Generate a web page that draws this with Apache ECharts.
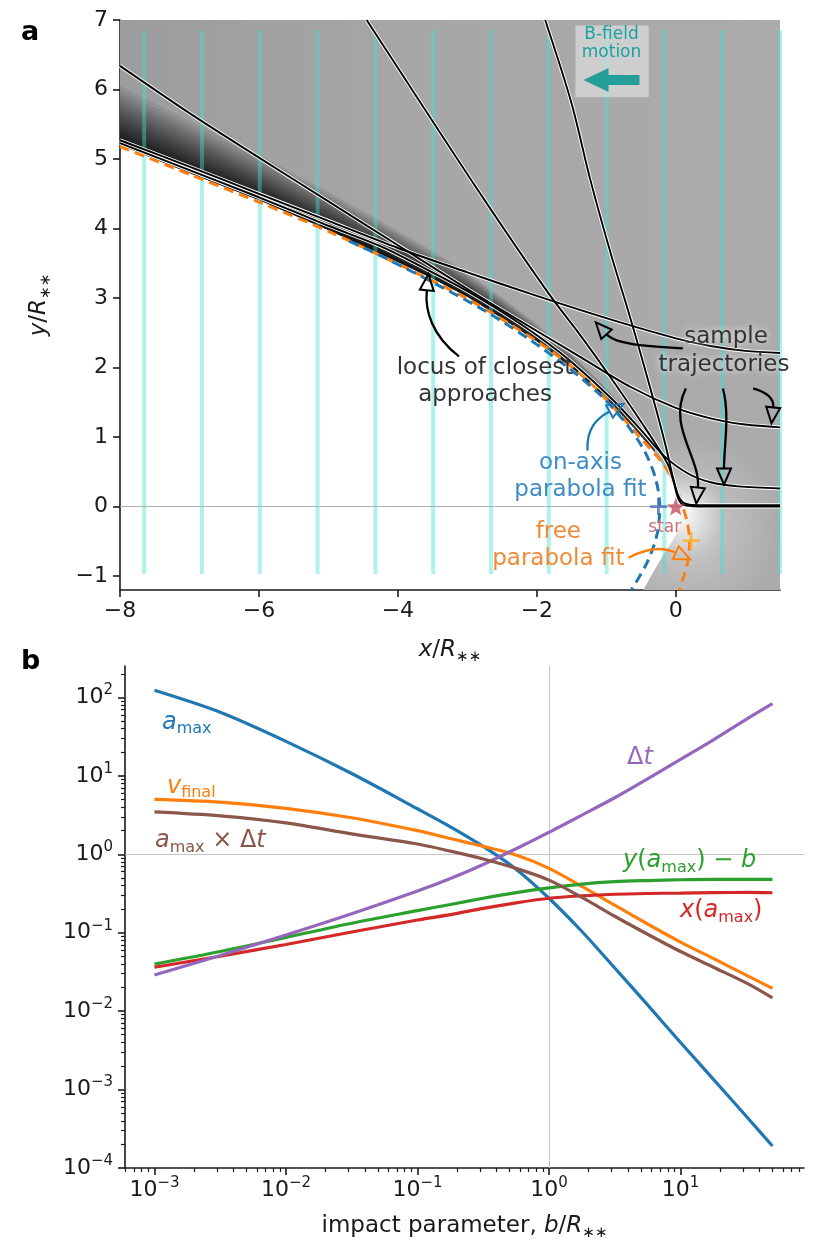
<!DOCTYPE html>
<html>
<head>
<meta charset="utf-8">
<script src="https://cdn.jsdelivr.net/npm/echarts@6.0.0/dist/echarts.min.js"></script>
<style>
html,body{margin:0;padding:0;background:#ffffff;}
#chart{width:830px;height:1246px;}
</style>
</head>
<body>
<div id="chart"></div>
<script>
// ===================== Panel a : values =====================
const A_X_RANGE = [-8, 1.5];
const A_Y_RANGE = [-1.2, 7];
const A_X_TICKS = [-8, -6, -4, -2, 0];
const A_Y_TICKS = [-1, 0, 1, 2, 3, 4, 5, 6, 7];

// vertical B-field lines
const BFIELD_X = [-7.652, -6.82, -5.988, -5.156, -4.324, -3.492, -2.66, -1.828, -0.996, -0.164, 0.668, 1.5];
const BFIELD_Y_SPAN = [-0.97, 6.85];

// lower-left edge of the grey density region (upper part, left to star)
const ENVELOPE = [[-8,5.2],[-7,4.8],[-6,4.41],[-5,3.98],[-4,3.52],[-3.5,3.28],[-3,3.02],[-2.5,2.71],[-2,2.38],[-1.5,2.0],[-1,1.56],[-0.6,1.13],[-0.3,0.78],[-0.1,0.45],[0.03,0.15],[0.09,0]];
// edge of the shadow below the star (star downwards)
const SHADOW_EDGE = [[0.09,0],[0.05,-0.3],[-0.05,-0.5],[-0.17,-0.68],[-0.3,-0.9],[-0.47,-1.2]];

// sample trajectories
const TRAJ_1 = [[-8,5.27],[-7,4.89],[-6,4.5],[-5,4.11],[-4,3.72],[-3,3.37],[-2,3.03],[-1,2.71],[0,2.42],[0.5,2.31],[1,2.24],[1.5,2.21]];
const TRAJ_2 = [[-8,6.34],[-7,5.66],[-6,5.02],[-5,4.39],[-4,3.76],[-3,3.13],[-2.34,2.73],[-1.37,2.15],[-0.65,1.72],[0,1.42],[0.5,1.27],[1,1.18],[1.5,1.14]];
const TRAJ_3 = [[-8,5.23],[-7,4.84],[-6,4.45],[-5,4.04],[-4.26,3.75],[-3.6,3.42],[-3,3.1],[-2.5,2.8],[-1.95,2.43],[-1.5,2.08],[-0.9,1.53],[-0.5,1.1],[-0.17,0.73],[0.17,0.48],[0.5,0.35],[0.9,0.29],[1.5,0.26]];
const TRAJ_4 = [[-4.45,7],[-3.7,5.85],[-2.96,4.72],[-2.3,3.74],[-1.76,2.97],[-1.37,2.46],[-0.94,1.86],[-0.5,1.22],[-0.12,0.62],[-0.03,0.35],[0.03,0.13],[0.1,0.03],[0.25,0.005],[0.6,0],[1.5,0]];
const TRAJ_5 = [[-1.88,7],[-1.5,5.8],[-1.23,4.7],[-0.93,3.62],[-0.68,2.8],[-0.45,2.0],[-0.27,1.35],[-0.14,0.85],[-0.04,0.42],[0.04,0.15],[0.12,0.05],[0.3,0.02],[1.5,0.02]];

// parabola fits
const FREE_FIT = [[-8,5.18],[-7,4.78],[-6,4.38],[-5,3.96],[-4,3.49],[-3,2.99],[-2.3,2.57],[-1.81,2.25],[-1.3,1.85],[-0.9,1.43],[-0.5,0.98],[-0.17,0.6],[0,0.28],[0.1,0],[0.17,-0.25],[0.2,-0.5],[0.17,-0.8],[0.1,-1.05],[0.05,-1.2]];
const ONAXIS_FIT = [[-4.7,3.82],[-4.15,3.56],[-3.45,3.2],[-2.72,2.8],[-2.1,2.4],[-1.55,2.0],[-1.08,1.6],[-0.72,1.2],[-0.45,0.8],[-0.29,0.4],[-0.23,0],[-0.27,-0.4],[-0.41,-0.8],[-0.64,-1.2]];

const STAR_POS = [[0, 0]];
const ONAXIS_FOCUS = [[-0.25, 0]];
const FREE_FOCUS = [[0.22, -0.49]];

// ===================== Panel b : values =====================
const B_VALUES  = [0.001, 0.00316, 0.01, 0.0316, 0.1, 0.178, 0.316, 0.562, 1, 1.78, 3.16, 5.62, 10, 17.8, 31.6, 50];
const A_MAX     = [123, 64.6, 27.5, 10.7, 3.80, 2.24, 1.26, 0.646, 0.275, 0.1035, 0.0355, 0.0120, 0.00398, 0.00135, 0.000457, 0.000191];
const V_FINAL   = [5.01, 4.62, 3.85, 2.92, 2.0, 1.585, 1.259, 0.977, 0.661, 0.389, 0.224, 0.129, 0.0759, 0.0468, 0.0288, 0.0195];
const Y_AMAX_B  = [0.0398, 0.0575, 0.0871, 0.132, 0.191, 0.229, 0.275, 0.324, 0.372, 0.417, 0.447, 0.462, 0.473, 0.479, 0.479, 0.479];
const X_AMAX    = [0.0363, 0.0501, 0.0708, 0.102, 0.145, 0.170, 0.204, 0.240, 0.275, 0.295, 0.309, 0.316, 0.320, 0.324, 0.326, 0.323];
const DELTA_T   = [0.0288, 0.0513, 0.0933, 0.174, 0.339, 0.490, 0.741, 1.175, 1.905, 3.16, 5.25, 9.12, 16.2, 28.8, 52.5, 83.2];
const AMAX_DT   = [3.47, 3.09, 2.51, 1.82, 1.35, 1.096, 0.871, 0.661, 0.468, 0.282, 0.162, 0.0955, 0.0575, 0.0363, 0.0229, 0.0148];

const B_X_RANGE_LOG = [-3.224, 1.939];
const B_Y_RANGE_LOG = [-4, 2.4];
const B_X_TICKS_LOG = [-3, -2, -1, 0, 1];
const B_Y_TICKS_LOG = [-4, -3, -2, -1, 0, 1, 2];

// ===================== helpers =====================
const FONT = 'DejaVu Sans';
const MINUS = '\u2212';
const INK = '#1a1a1a';
const fmtNum = v => (v < 0 ? MINUS + Math.abs(v) : String(v));
const C = {blue:'#1f77b4', orange:'#ff7f0e', green:'#2ca02c', red:'#d62728', purple:'#9467bd', brown:'#8c564b'};

function minorLogTicks(lo, hi) {
  const out = [];
  for (let n = Math.floor(lo) - 1; n <= Math.ceil(hi); n++) {
    for (let k = 2; k <= 9; k++) {
      const v = n + Math.log10(k);
      if (v > lo && v < hi) out.push(v);
    }
  }
  return out;
}
const X_MINOR = minorLogTicks(B_X_RANGE_LOG[0], B_X_RANGE_LOG[1]);
const Y_MINOR = minorLogTicks(B_Y_RANGE_LOG[0], B_Y_RANGE_LOG[1]);

function starPath() {
  let d = '';
  for (let i = 0; i < 10; i++) {
    const r = i % 2 ? 0.42 : 1;
    const a = -Math.PI / 2 + i * Math.PI / 5;
    d += (i ? 'L' : 'M') + (r * Math.cos(a)).toFixed(3) + ',' + (r * Math.sin(a)).toFixed(3);
  }
  return 'path://' + d + 'Z';
}
const PLUS_PATH = 'path://M-1,-0.17L-0.17,-0.17L-0.17,-1L0.17,-1L0.17,-0.17L1,-0.17L1,0.17L0.17,0.17L0.17,1L-0.17,1L-0.17,0.17L-1,0.17Z';

// grey region polygon built from the envelope + shadow edges and axis extents
const GRAY_POLY = [[A_X_RANGE[0], A_Y_RANGE[1]], [A_X_RANGE[1], A_Y_RANGE[1]], [A_X_RANGE[1], A_Y_RANGE[0]]]
  .concat(SHADOW_EDGE.slice().reverse())
  .concat(ENVELOPE.slice(0, -1).reverse());

// dark caustic band next to the envelope (stacked translucent layers)
const BAND_N = 30;
const BAND_FRACS = Array.from({length: BAND_N}, (_, i) => Math.pow((i + 1) / BAND_N, 2.2));
function bandPolygon(frac) {
  const pts = ENVELOPE.filter(p => p[0] <= -0.15);
  const upper = pts.map(([x, y]) => [x, y + (0.05 + 0.1 * (-x)) * frac]).reverse();
  return pts.concat(upper);
}
const GLOWS = [
  {x: 0.15, y: -0.3, r: 1.35, a: 0.55},
  {x: 0.08, y: -0.08, r: 0.6, a: 1.0}
];

function trajSeries(pts) {
  return [
    {type:'line', xAxisIndex:0, yAxisIndex:0, data: pts, showSymbol:false, smooth:0.3, silent:true, z:5,
     lineStyle:{color:'#ffffff', width:3.8}},
    {type:'line', xAxisIndex:0, yAxisIndex:0, data: pts, showSymbol:false, smooth:0.3, silent:true, z:6,
     lineStyle:{color:'#000000', width:1.9}}
  ];
}
function logSeries(vals, color) {
  return {type:'line', xAxisIndex:1, yAxisIndex:1, showSymbol:false, smooth:0.3, silent:true, z:5,
    data: B_VALUES.map((b, i) => [Math.log10(b), Math.log10(vals[i])]),
    lineStyle:{color, width:3.2}};
}

const mathRich = (size) => ({
  i: {fontFamily: FONT, fontStyle:'italic', fontSize: size, lineHeight: size + 6},
  n: {fontFamily: FONT, fontSize: size, lineHeight: size + 6},
  s: {fontFamily: FONT, fontSize: Math.round(size * 0.65), lineHeight: Math.round(size * 0.65), verticalAlign:'bottom'}
});
const supRich = {
  b: {fontFamily: FONT, fontSize: 22, lineHeight: 29, color: INK},
  s: {fontFamily: FONT, fontSize: 15, lineHeight: 15, verticalAlign:'top', color: INK}
};

const chart = echarts.init(document.getElementById('chart'), null, {renderer:'canvas'});

const axisLineStyle = {color: INK, width: 1.6};
const option = {
  animation: false,
  backgroundColor: '#ffffff',
  grid: [
    {left: 120, top: 20, width: 660, height: 570},
    {left: 125, top: 666, width: 679, height: 502}
  ],
  xAxis: [
    {type:'value', gridIndex:0, min:A_X_RANGE[0], max:A_X_RANGE[1], position:'bottom',
     axisLine:{onZero:false, lineStyle:axisLineStyle}, splitLine:{show:false},
     axisTick:{customValues:A_X_TICKS, length:7, lineStyle:axisLineStyle},
     axisLabel:{customValues:A_X_TICKS, formatter:fmtNum, fontFamily:FONT, fontSize:22, color:INK, margin:10},
     name:'{i|x}{n|/}{i|R}{s|∗∗}', nameLocation:'middle', nameGap:46,
     nameTextStyle:{color:INK, fontFamily:FONT, fontSize:23, rich: mathRich(23)}},
    {type:'value', gridIndex:1, min:B_X_RANGE_LOG[0], max:B_X_RANGE_LOG[1], position:'bottom',
     axisLine:{onZero:false, lineStyle:axisLineStyle}, splitLine:{show:false},
     axisTick:{customValues:B_X_TICKS_LOG, length:7, lineStyle:axisLineStyle},
     axisLabel:{customValues:B_X_TICKS_LOG, formatter: v => '{b|10}{s|' + fmtNum(v) + '}', rich: supRich, margin:8},
     name:'{n|impact parameter, }{i|b}{n|/}{i|R}{s|∗∗}', nameLocation:'middle', nameGap:44,
     nameTextStyle:{color:INK, fontFamily:FONT, fontSize:23, rich: mathRich(23)}},
    {type:'value', gridIndex:1, min:B_X_RANGE_LOG[0], max:B_X_RANGE_LOG[1], position:'bottom',
     axisLine:{show:false, onZero:false}, splitLine:{show:false}, axisLabel:{show:false},
     axisTick:{customValues:X_MINOR, length:4, lineStyle:{color:INK, width:1.2}}}
  ],
  yAxis: [
    {type:'value', gridIndex:0, min:A_Y_RANGE[0], max:A_Y_RANGE[1], position:'left',
     axisLine:{onZero:false, lineStyle:axisLineStyle}, splitLine:{show:false},
     axisTick:{customValues:A_Y_TICKS, length:7, lineStyle:axisLineStyle},
     axisLabel:{customValues:A_Y_TICKS, formatter:fmtNum, fontFamily:FONT, fontSize:22, color:INK, margin:12},
     name:'{i|y}{n|/}{i|R}{s|∗∗}', nameLocation:'middle', nameGap:66, nameRotate:90,
     nameTextStyle:{color:INK, fontFamily:FONT, fontSize:23, rich: mathRich(23)}},
    {type:'value', gridIndex:1, min:B_Y_RANGE_LOG[0], max:B_Y_RANGE_LOG[1], position:'left',
     axisLine:{onZero:false, lineStyle:axisLineStyle}, splitLine:{show:false},
     axisTick:{customValues:B_Y_TICKS_LOG, length:7, lineStyle:axisLineStyle},
     axisLabel:{customValues:B_Y_TICKS_LOG, formatter: v => '{b|10}{s|' + fmtNum(v) + '}', rich: supRich, margin:12}},
    {type:'value', gridIndex:1, min:B_Y_RANGE_LOG[0], max:B_Y_RANGE_LOG[1], position:'left',
     axisLine:{show:false, onZero:false}, splitLine:{show:false}, axisLabel:{show:false},
     axisTick:{customValues:Y_MINOR, length:4, lineStyle:{color:INK, width:1.2}}}
  ],
  series: []
};

const S = option.series;
// grey density background
S.push({type:'custom', xAxisIndex:0, yAxisIndex:0, clip:true, silent:true, z:1, data:[[0,0]],
  renderItem:(p, api) => ({type:'polygon', shape:{points: GRAY_POLY.map(q => api.coord(q))},
    style:{fill:{type:'linear', x:0, y:0, x2:1, y2:0, colorStops:[
      {offset:0, color:'#9c9c9c'}, {offset:0.45, color:'#a7a7a7'}, {offset:1, color:'#ababab'}]}}})});
// dark band along the envelope
S.push({type:'custom', xAxisIndex:0, yAxisIndex:0, clip:true, silent:true, z:1, data: BAND_FRACS.map(() => [0,0]),
  renderItem:(p, api) => ({type:'polygon', shape:{points: bandPolygon(BAND_FRACS[p.dataIndex]).map(q => api.coord(q))},
    style:{fill:'rgba(0,0,0,0.075)'}})});
// glow round the star
S.push({type:'custom', xAxisIndex:0, yAxisIndex:0, clip:true, silent:true, z:1, data: GLOWS.map(() => [0,0]),
  renderItem:(p, api) => {
    const g = GLOWS[p.dataIndex];
    const c = api.coord([g.x, g.y]);
    const r = api.size([g.r, 0])[0];
    return {type:'circle', shape:{cx:c[0], cy:c[1], r},
      style:{fill:{type:'radial', x:0.5, y:0.5, r:0.5, colorStops:[
        {offset:0, color:'rgba(255,255,255,' + g.a + ')'}, {offset:0.45, color:'rgba(255,255,255,' + (g.a*0.4) + ')'},
        {offset:1, color:'rgba(255,255,255,0)'}]}}};
  }});
// B-field lines
S.push({type:'custom', xAxisIndex:0, yAxisIndex:0, clip:false, silent:true, z:2, data: BFIELD_X.map(x => [x, BFIELD_Y_SPAN[0]]),
  renderItem:(p, api) => {
    const x = api.value(0);
    const a = api.coord([x, BFIELD_Y_SPAN[0]]), b = api.coord([x, BFIELD_Y_SPAN[1]]);
    return {type:'line', shape:{x1:a[0], y1:a[1], x2:b[0], y2:b[1]}, style:{stroke:'rgba(64,224,208,0.42)', lineWidth:4}};
  }});
// parabola fits
S.push({type:'line', xAxisIndex:0, yAxisIndex:0, data: FREE_FIT, showSymbol:false, smooth:0.3, silent:true, z:3,
  lineStyle:{color:C.orange, width:3, type:[10,6]}});
S.push({type:'line', xAxisIndex:0, yAxisIndex:0, data: ONAXIS_FIT, showSymbol:false, smooth:0.3, silent:true, z:3,
  lineStyle:{color:C.blue, width:3, type:[10,6]},
  markLine:{silent:true, symbol:'none', label:{show:false}, lineStyle:{color:'#b0b0b0', width:1, type:'solid'}, data:[{yAxis:0}]}});
// trajectories
[TRAJ_1, TRAJ_2, TRAJ_3, TRAJ_4, TRAJ_5].forEach(t => S.push(...trajSeries(t)));
// star and foci
S.push({type:'scatter', xAxisIndex:0, yAxisIndex:0, data: ONAXIS_FOCUS, symbol: PLUS_PATH, symbolSize:17, silent:true, z:8,
  itemStyle:{color:'#4a6fb8'}});
S.push({type:'scatter', xAxisIndex:0, yAxisIndex:0, data: FREE_FOCUS, symbol: PLUS_PATH, symbolSize:17, silent:true, z:8,
  itemStyle:{color:'#ffae1f'}});
S.push({type:'scatter', xAxisIndex:0, yAxisIndex:0, data: STAR_POS, symbol: starPath(), symbolSize:18, silent:true, z:9,
  itemStyle:{color:'#c44e5c'}});

// panel b curves
S.push(Object.assign(logSeries(A_MAX, C.blue), {
  markLine:{silent:true, symbol:'none', label:{show:false}, z:1, lineStyle:{color:'#c4c4c4', width:1, type:'solid'}, data:[{xAxis:0},{yAxis:0}]}}));
S.push(logSeries(V_FINAL, C.orange));
S.push(logSeries(Y_AMAX_B, C.green));
S.push(logSeries(X_AMAX, C.red));
S.push(logSeries(DELTA_T, C.purple));
S.push(logSeries(AMAX_DT, C.brown));

chart.setOption(option);

// ===================== annotations (placed in data coordinates) =====================
const PA = p => chart.convertToPixel({gridIndex:0}, p);
const PB = p => chart.convertToPixel({gridIndex:1}, p);

function textEl(pt, text, font, fill, extra) {
  return Object.assign({type:'text', x: pt[0], y: pt[1], z:100, silent:true,
    style: Object.assign({text, font, fill, align:'center', verticalAlign:'middle', textAlign:'center', textVerticalAlign:'middle'}, extra || {})});
}
function curvedArrow(ctrl, color) {
  const [s, c1, c2, e] = ctrl.map(PA);
  const dx = e[0] - c2[0], dy = e[1] - c2[1];
  const L = Math.hypot(dx, dy) || 1, ux = dx / L, uy = dy / L;
  const len = 16, hw = 7;
  const tip = [e[0] + ux * len, e[1] + uy * len];
  const b1 = [e[0] - uy * hw, e[1] + ux * hw], b2 = [e[0] + uy * hw, e[1] - ux * hw];
  return [
    {type:'bezierCurve', z:100, silent:true, shape:{x1:s[0], y1:s[1], cpx1:c1[0], cpy1:c1[1], cpx2:c2[0], cpy2:c2[1], x2:e[0], y2:e[1]},
     style:{stroke: color, lineWidth: 2.3, fill: null}},
    {type:'polygon', z:101, silent:true, shape:{points:[tip, b1, b2]}, style:{fill:'none', stroke: color, lineWidth: 2}}
  ];
}

const ARROWS = [
  {ctrl:[[-3.121,2.161],[-3.512,2.464],[-3.613,2.824],[-3.584,3.112]], color:'#000'},
  {ctrl:[[0.101,2.277],[-0.434,2.305],[-0.867,2.334],[-0.997,2.478]], color:'#000'},
  {ctrl:[[0.145,1.700],[-0.130,1.167],[0.361,0.692],[0.318,0.274]], color:'#000'},
  {ctrl:[[0.679,1.700],[0.780,1.311],[0.694,0.879],[0.694,0.548]], color:'#000'},
  {ctrl:[[1.113,1.700],[1.315,1.643],[1.416,1.556],[1.402,1.427]], color:'#000'},
  {ctrl:[[-1.272,0.807],[-1.286,1.124],[-1.142,1.268],[-0.954,1.369]], color:C.blue},
  {ctrl:[[-0.679,-0.735],[-0.434,-0.605],[-0.188,-0.576],[0.0,-0.663]], color:C.orange}
];

const F23 = '23px ' + FONT;
const halo = {textShadowColor:'rgba(255,255,255,0.95)', textShadowBlur:7};
const G = [];
// panel letters
G.push({type:'text', left:21, top:19, z:100, silent:true, style:{text:'a', font:'bold 27px ' + FONT, fill:'#000'}});
G.push({type:'text', left:21, top:648, z:100, silent:true, style:{text:'b', font:'bold 27px ' + FONT, fill:'#000'}});

// B-field box
(() => {
  const tl = PA([-1.445, 6.92]), br = PA([-0.39, 5.89]);
  G.push({type:'rect', z:99, silent:true, shape:{x:tl[0], y:tl[1], width:br[0]-tl[0], height:br[1]-tl[1]},
    style:{fill:'rgba(236,236,236,0.55)'}});
  G.push(textEl(PA([-0.925, 6.787]), 'B-field', '17px ' + FONT, '#1aa3a3'));
  G.push(textEl(PA([-0.925, 6.527]), 'motion', '17px ' + FONT, '#1aa3a3'));
  const c = PA([-0.925, 6.138]);
  const pts = [[-28,0],[-3,-12],[-3,-5],[28,-5],[28,5],[-3,5],[-3,12]].map(([dx,dy]) => [c[0]+dx, c[1]+dy]);
  G.push({type:'polygon', z:100, silent:true, shape:{points:pts}, style:{fill:'#239e98'}});
})();

G.push(textEl(PA([-2.746, 1.988]), 'locus of closest', F23, '#333333'));
G.push(textEl(PA([-2.746, 1.599]), 'approaches', F23, '#333333'));
G.push(textEl(PA([0.723, 2.435]), 'sample', F23, '#333333', halo));
G.push(textEl(PA([0.694, 2.032]), 'trajectories', F23, '#333333', halo));
G.push(textEl(PA([-1.373, 0.620]), 'on-axis', F23, '#3f8bc6'));
G.push(textEl(PA([-1.373, 0.245]), 'parabola fit', F23, '#3f8bc6'));
G.push(textEl(PA([-1.691, -0.360]), 'free', F23, '#f08a36'));
G.push(textEl(PA([-1.691, -0.749]), 'parabola fit', F23, '#f08a36'));
G.push(textEl(PA([-0.159, -0.303]), 'star', '17px ' + FONT, '#cc6f79'));
ARROWS.forEach(a => G.push(...curvedArrow(a.ctrl, a.color)));

// panel b curve labels
const LBL = [
  {pos:[-2.943, 1.682], text:'{i|a}{s|max}', color:C.blue},
  {pos:[-2.905, 0.866], text:'{i|v}{s|final}', color:C.orange},
  {pos:[-2.996, 0.166], text:'{i|a}{s|max}{n| × Δ}{i|t}', color:C.brown},
  {pos:[0.593, 1.236], text:'{n|Δ}{i|t}', color:C.purple},
  {pos:[0.563, -0.089], text:'{i|y}{n|(}{i|a}{s|max}{n|) − }{i|b}', color:C.green},
  {pos:[0.996, -0.726], text:'{i|x}{n|(}{i|a}{s|max}{n|)}', color:C.red}
];
LBL.forEach(l => {
  const p = PB(l.pos);
  G.push({type:'text', x:p[0], y:p[1], z:100, silent:true,
    style:{text:l.text, fill:l.color, font:'24px ' + FONT, align:'left', verticalAlign:'middle', textAlign:'left', textVerticalAlign:'middle',
      rich: mathRich(24)}});
});

chart.setOption({graphic: {elements: G}});
</script>
</body>
</html>
